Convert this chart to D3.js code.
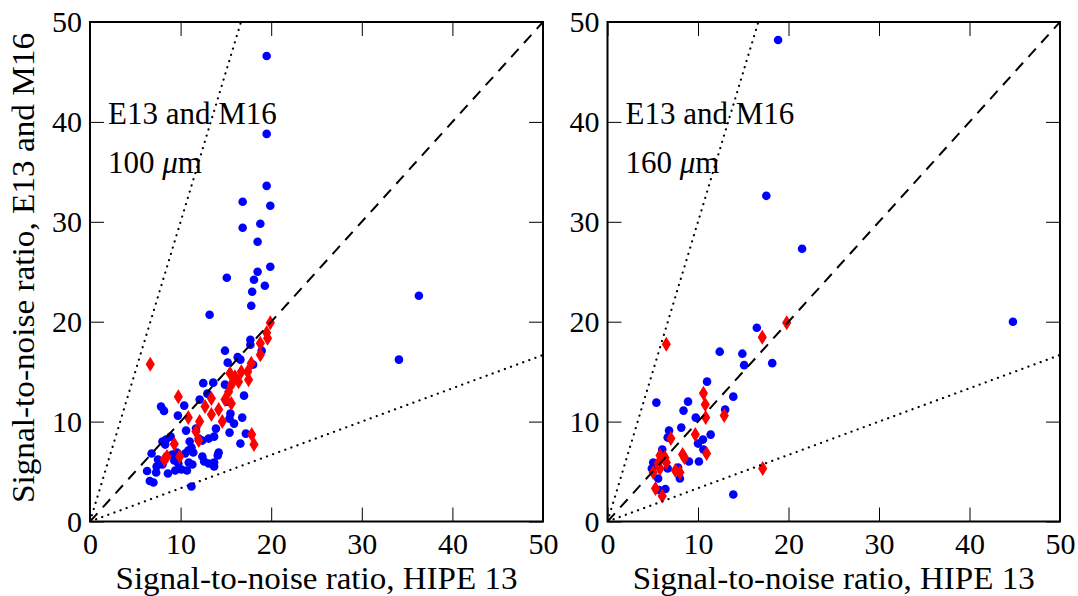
<!DOCTYPE html>
<html>
<head>
<meta charset="utf-8">
<script src="https://cdn.jsdelivr.net/npm/d3@7"></script>
<style>
  body { margin: 0; background: #fff; }
  svg { display: block; }
</style>
</head>
<body>
<svg width="1078" height="596" font-family="'Liberation Serif'"></svg>
<script>
// Signal-to-noise comparison, two panels (100 um and 160 um)

// Axis ticks
const X_TICKS = [0, 10, 20, 30, 40, 50];
const Y_TICKS = [0, 10, 20, 30, 40, 50];

// 100 um panel: [HIPE 13, E13 and M16]
const left_blue = [
    [19.5, 46.6], [19.5, 38.8], [19.5, 33.6], [16.85, 32.0], [19.9, 31.6], [16.85, 29.4], [18.8, 29.8],
    [18.5, 28.0], [19.9, 25.5], [18.5, 25.0], [15.1, 24.4], [18.1, 24.2], [19.3, 23.6], [17.9, 23.0],
    [17.8, 21.6], [13.2, 20.7], [17.7, 18.2], [36.3, 22.6], [34.1, 16.2],
    [17.7, 17.7], [14.9, 17.1], [16.3, 16.45], [18.95, 17.1], [15.2, 15.9], [18.0, 15.7], [16.6, 16.2],
    [12.5, 13.85], [13.6, 13.9], [7.84, 11.5], [8.17, 11.07], [10.4, 11.6], [9.7, 10.6], [12.1, 12.2],
    [17.0, 12.6], [15.5, 10.8], [15.4, 10.3], [16.8, 10.4], [15.9, 9.8], [15.4, 8.9], [17.2, 8.8],
    [16.6, 7.8], [10.6, 9.1], [11.7, 9.3], [12.0, 8.3], [13.7, 8.5], [13.1, 8.3], [8.0, 8.0], [8.3, 7.7],
    [8.9, 8.5], [11.0, 8.0], [12.4, 8.1], [10.85, 7.1], [11.4, 6.9], [14.2, 6.9], [14.1, 6.6], [12.4, 6.5],
    [12.6, 6.0], [13.1, 5.8], [13.7, 5.9], [13.7, 5.5], [6.8, 6.8], [7.5, 6.2], [8.0, 5.7], [9.1, 6.7],
    [9.3, 6.1], [9.75, 5.8], [10.5, 6.8], [10.9, 5.9], [10.1, 5.2], [10.7, 5.1], [9.4, 5.1], [8.6, 4.8],
    [6.3, 5.05], [7.3, 4.9], [6.6, 4.05], [7.0, 3.9], [11.2, 3.5], [8.4, 8.2], [9.6, 6.9], [11.2, 7.4],
    [14.9, 13.7], [12.95, 12.8], [15.1, 12.0], [13.9, 9.3], [7.35, 5.5], [11.3, 5.7]
];
const left_red = [
    [19.9, 19.9], [19.5, 18.9], [19.6, 18.35], [18.8, 17.85], [18.8, 16.7], [17.8, 15.85], [16.7, 15.0],
    [17.4, 15.0], [16.0, 14.5], [16.4, 14.0], [15.6, 13.7], [17.5, 14.2], [15.3, 13.0], [14.9, 12.2],
    [15.6, 11.8], [13.4, 12.3], [12.7, 11.5], [14.2, 11.2], [13.4, 10.7], [14.6, 10.0], [12.1, 10.0],
    [11.7, 9.0], [10.85, 10.4], [9.75, 12.5], [9.3, 7.75], [9.9, 6.5], [8.5, 6.5], [8.2, 6.2],
    [17.85, 8.7], [18.1, 7.7], [6.65, 15.75], [15.45, 14.85], [12.0, 8.1]
];

// 160 um panel
const right_blue = [
    [16.5, 19.4], [12.4, 17.0], [14.9, 16.8], [15.1, 15.65], [18.2, 15.85], [11.0, 14.0], [13.9, 12.5],
    [8.9, 12.0], [8.4, 11.1], [13.0, 11.2], [5.4, 11.9], [9.75, 10.4], [8.15, 9.4], [11.4, 8.7], [6.8, 9.1],
    [6.65, 8.4], [10.55, 8.2], [10.0, 7.8], [10.6, 7.2], [6.05, 7.2], [9.0, 6.0], [10.1, 6.0], [7.8, 5.4],
    [8.0, 4.3], [6.65, 5.3], [5.05, 5.9], [4.9, 5.3], [5.6, 4.3], [5.7, 3.15], [6.4, 3.25], [13.9, 2.7],
    [18.85, 48.2], [17.55, 32.6], [21.5, 27.3], [44.8, 20.0]
];
const right_red = [
    [19.8, 19.9], [17.1, 18.45], [6.5, 17.75], [10.6, 12.85], [10.8, 11.7], [10.85, 10.4], [12.9, 10.6],
    [9.7, 8.7], [7.0, 8.3], [10.95, 6.8], [8.3, 6.7], [8.5, 6.4], [5.8, 6.6], [6.35, 6.4], [6.5, 5.9],
    [5.6, 5.8], [5.05, 4.9], [5.8, 5.3], [7.5, 5.1], [8.0, 4.9], [17.15, 5.3], [5.3, 3.3], [6.05, 2.55]
];

// Reference lines: slope of y = k * x
const SLOPES = [1, 3, 1 / 3];

const X_LABEL = "Signal-to-noise ratio, HIPE 13";
const Y_LABEL = "Signal-to-noise ratio, E13 and M16";

// Chart constants
const svg = d3.select("svg");
const TOP = 22, BOTTOM = 521.5;
const FONT = 31;
const TICK_FONT = 30;

const y = d3.scaleLinear().domain([0, 50]).range([BOTTOM, TOP]);

drawPanel(90, 543, left_blue, left_red, "100", "clipL", true);
drawPanel(607.5, 1060, right_blue, right_red, "160", "clipR", false);

function drawPanel(x0, x1, blue, red, wave, clipId, showYLabel) {
    const x = d3.scaleLinear().domain([0, 50]).range([x0, x1]);
    const g = svg.append("g");

    g.append("clipPath").attr("id", clipId)
        .append("rect")
        .attr("x", x0).attr("y", TOP)
        .attr("width", x1 - x0).attr("height", BOTTOM - TOP);

    // points
    g.append("g").selectAll("circle")
        .data(blue)
        .enter()
        .append("circle")
        .attr("cx", (d) => x(d[0]))
        .attr("cy", (d) => y(d[1]))
        .attr("r", 4.3)
        .attr("fill", "#0000ff");

    g.append("g").selectAll("path")
        .data(red)
        .enter()
        .append("path")
        .attr("transform", (d) => `translate(${x(d[0])},${y(d[1])})`)
        .attr("d", "M0,-7.5L4.6,0L0,7.5L-4.6,0Z")
        .attr("fill", "#ff0000");

    // reference lines
    g.append("g").attr("clip-path", `url(#${clipId})`)
        .selectAll("line")
        .data(SLOPES)
        .enter()
        .append("line")
        .attr("x1", x(0)).attr("y1", y(0))
        .attr("x2", x(50)).attr("y2", (k) => y(50 * k))
        .attr("stroke", "#000")
        .attr("stroke-width", (k) => k === 1 ? 2 : 2.2)
        .attr("stroke-linecap", (k) => k === 1 ? "butt" : "round")
        .attr("stroke-dasharray", (k) => k === 1 ? "11,8" : "0.1,6.4");

    // axes, ticks pointing inwards on all four sides
    const bottom = g.append("g")
        .attr("transform", `translate(0,${BOTTOM})`)
        .call(d3.axisBottom(x).tickValues(X_TICKS).tickSize(-14).tickPadding(11));
    const top = g.append("g")
        .attr("transform", `translate(0,${TOP})`)
        .call(d3.axisTop(x).tickValues(X_TICKS).tickSize(-14).tickFormat(""));
    const left = g.append("g")
        .attr("transform", `translate(${x0},0)`)
        .call(d3.axisLeft(y).tickValues(Y_TICKS).tickSize(-14).tickPadding(8));
    const right = g.append("g")
        .attr("transform", `translate(${x1},0)`)
        .call(d3.axisRight(y).tickValues(Y_TICKS).tickSize(-14).tickFormat(""));

    [bottom, top, left, right].forEach((a) => {
        a.attr("font-family", null).attr("font-size", TICK_FONT);
        a.select(".domain").remove();
        a.selectAll(".tick line").attr("stroke", "#000").attr("stroke-width", 1);
        a.selectAll("text").attr("fill", "#000");
    });

    // frame
    g.append("rect")
        .attr("x", x0).attr("y", TOP)
        .attr("width", x1 - x0).attr("height", BOTTOM - TOP)
        .attr("fill", "none")
        .attr("stroke", "#000")
        .attr("stroke-width", 2);

    // annotation
    g.append("text")
        .attr("x", x0 + 18).attr("y", 123.5)
        .attr("font-size", FONT)
        .text("E13 and M16");
    const t = g.append("text")
        .attr("x", x0 + 18).attr("y", 173)
        .attr("font-size", FONT);
    t.append("tspan").text(wave + " ");
    t.append("tspan").attr("font-style", "italic").text("\u03bc");
    t.append("tspan").text("m");

    // axis labels
    g.append("text")
        .attr("x", (x0 + x1) / 2).attr("y", 589)
        .attr("text-anchor", "middle")
        .attr("font-size", FONT)
        .attr("textLength", 402)
        .attr("lengthAdjust", "spacingAndGlyphs")
        .text(X_LABEL);

    if (showYLabel) {
        g.append("text")
            .attr("transform", `translate(34,268) rotate(-90)`)
            .attr("text-anchor", "middle")
            .attr("font-size", FONT)
            .attr("textLength", 470)
            .attr("lengthAdjust", "spacingAndGlyphs")
            .text(Y_LABEL);
    }
}
</script>
</body>
</html>
